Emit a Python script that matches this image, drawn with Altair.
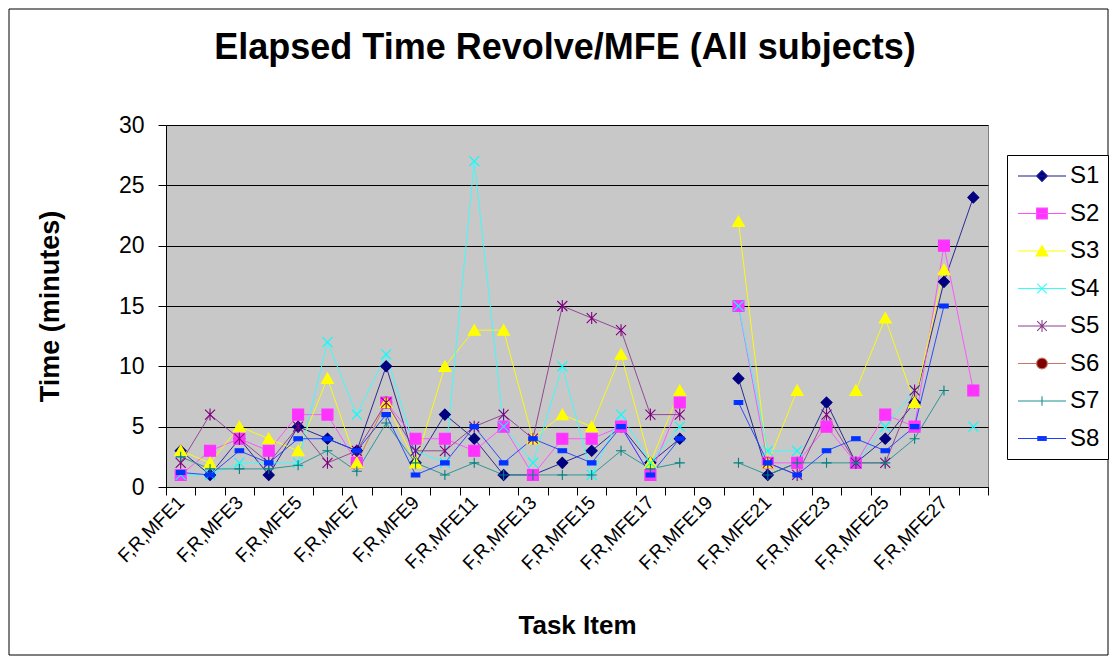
import json
import altair as alt
import pandas as pd

chart_title = "Elapsed Time Revolve/MFE (All subjects)"
tasks = ["F,R,MFE1", "F,R,MFE2", "F,R,MFE3", "F,R,MFE4", "F,R,MFE5", "F,R,MFE6", "F,R,MFE7",
         "F,R,MFE8", "F,R,MFE9", "F,R,MFE10", "F,R,MFE11", "F,R,MFE12", "F,R,MFE13", "F,R,MFE14",
         "F,R,MFE15", "F,R,MFE16", "F,R,MFE17", "F,R,MFE18", "F,R,MFE19", "F,R,MFE20", "F,R,MFE21",
         "F,R,MFE22", "F,R,MFE23", "F,R,MFE24", "F,R,MFE25", "F,R,MFE26", "F,R,MFE27", "F,R,MFE28"]
shown_labels = ["F,R,MFE1", "F,R,MFE3", "F,R,MFE5", "F,R,MFE7", "F,R,MFE9", "F,R,MFE11", "F,R,MFE13",
                "F,R,MFE15", "F,R,MFE17", "F,R,MFE19", "F,R,MFE21", "F,R,MFE23", "F,R,MFE25", "F,R,MFE27"]
series = ["S1", "S2", "S3", "S4", "S5", "S6", "S7", "S8"]
draw_order = [2, 3, 4, 5, 6, 1, 7, 8]  # S6 markers sit beneath the others

N = None
s1 = [3, 1, 4, 1, 5, 4, 3, 10, 2, 6, 4, 1, 1, 2, 3, 5, 2, 4, N, 9, 1, 2, 7, 2, 4, 7, 17, 24]
s2 = [1, 3, 4, 3, 6, 6, 2, 7, 4, 4, 3, 5, 1, 4, 4, 5, 1, 7, N, 15, 2, 2, 5, 2, 6, 5, 20, 8]
s3 = [3, 2, 5, 4, 3, 9, 2, 7, 2, 10, 13, 13, 4, 6, 5, 11, 2, 8, N, 22, 2, 8, N, 8, 14, 7, 18, N]
s4 = [1, 1, 2, 2, 2, 12, 6, 11, 3, 2, 27, 5, 2, 10, 1, 6, 2, 5, N, 15, 3, 3, N, 2, 5, 8, N, 5]
s5 = [2, 6, 4, 2, 5, 2, 3, 7, 3, 3, 5, 6, 4, 15, 14, 13, 6, 6, N, N, 2, 1, 6, 2, 2, 8, N, N]
s6 = [N, N, N, N, N, N, 2, 7, N, N, N, N, N, N, N, N, N, N, N, N, N, N, N, N, N, N, N, N]
s7 = [2.5, 1.5, 1.5, 1.5, 1.8, 3, 1.3, 5.3, 2, 1, 2, 1, 1, 1, 1, 3, 1.5, 2, N, 2, 1, 2, 2, 2, 2, 4, 8, N]
s8 = [1.2, 1, 3, 2, 4, 4, 3, 6, 1, 2, 5, 2, 4, 3, 2, 5, 1, 4, N, 7, 2, 1, 3, 4, 3, 5, 15, N]
all_values = [s1, s2, s3, s4, s5, s6, s7, s8]

line_colors = ["#1a1a8c", "#ff4dff", "#ffff00", "#33ffff", "#8c3d8c", "#c07868", "#1f8f8f", "#1a3dff"]
marker_colors = ["#000080", "#ff33ff", "#ffff00", "#00ffff", "#800080", "#800000", "#008080", "#0033ff"]

# marker paths (unit = sqrt(size)/2 px)
chart_paths = [
    "M0,-1.1L1.1,0L0,1.1L-1.1,0Z",
    "M-1.1,-1.1H1.1V1.1H-1.1Z",
    "M0,-1.1L1.2,1L-1.2,1Z",
    "M-1,-1L1,1M-1,1L1,-1",
    "M-1,-1L1,1M-1,1L1,-1M0,-1.2V1.2",
    "M1.1,0A1.1,1.1 0 1,1 -1.1,0A1.1,1.1 0 1,1 1.1,0Z",
    "M-1,0H1M0,-1V1",
    "M-0.85,-0.4H0.85V0.4H-0.85Z",
]
legend_paths = [
    "M-2,0H2M0,-0.45L0.45,0L0,0.45L-0.45,0Z",
    "M-2,0H2M-0.45,-0.45H0.45V0.45H-0.45Z",
    "M-2,0H2M0,-0.45L0.5,0.42L-0.5,0.42Z",
    "M-2,0H2M-0.4,-0.4L0.4,0.4M-0.4,0.4L0.4,-0.4",
    "M-2,0H2M-0.4,-0.4L0.4,0.4M-0.4,0.4L0.4,-0.4M0,-0.5V0.5",
    "M-2,0H-0.45M0.45,0H2M0.45,0A0.45,0.45 0 1,1 -0.45,0A0.45,0.45 0 1,1 0.45,0Z",
    "M-2,0H2M0,-0.4V0.4",
    "M-2,0H2M-0.35,-0.17H0.35V0.17H-0.35Z",
]

rows = []
for name, z, vals in zip(series, draw_order, all_values):
    for t, v in zip(tasks, vals):
        rows.append({"task": t, "series": name, "z": z, "value": v})
df = pd.DataFrame(rows)
df_pts = df.dropna(subset=["value"]).sort_values("z", kind="stable")

FONT = "Liberation Sans"

label_expr = "indexof(" + json.dumps(shown_labels) + ", datum.value) >= 0 ? datum.label : ''"

x_enc = alt.X(
    "task:N",
    sort=tasks,
    bandPosition=0.5,
    scale=alt.Scale(type="band", paddingInner=0, paddingOuter=0),
    axis=alt.Axis(
        title="Task Item",
        titleFont=FONT, titleFontSize=26, titleFontWeight="bold", titleColor="black",
        titleX=411, titleY=138, titleAnchor="middle", titleBaseline="middle",
        labelExpr=label_expr, labelAngle=315, labelAlign="right", labelBaseline="middle",
        labelFont=FONT, labelFontSize=19, labelColor="black", labelPadding=4,
        labelOverlap=False, labelBound=False, labelFlush=False,
        tickBand="extent", tickSize=8, tickColor="black", domainColor="black",
        grid=False,
    ),
)
y_enc = alt.Y(
    "value:Q",
    scale=alt.Scale(domain=[0, 30], nice=False, zero=True),
    axis=alt.Axis(
        values=[0, 5, 10, 15, 20, 25, 30],
        title="Time (minutes)",
        titleFont=FONT, titleFontSize=27, titleFontWeight="bold", titleColor="black",
        titleX=-116, titleY=181, titleAlign="center", titleBaseline="middle", titleAngle=270,
        labelFont=FONT, labelFontSize=23, labelColor="black", labelPadding=14,
        tickSize=8, tickColor="black", domainColor="black",
        grid=True, gridColor="black", gridWidth=1,
    ),
)

lines = alt.Chart(df).mark_line(
    strokeWidth=1, opacity=0.9, invalid="break-paths-show-domains"
).encode(
    x=x_enc, y=y_enc,
    color=alt.Color("series:N", scale=alt.Scale(domain=series, range=line_colors), legend=None),
)

points = alt.Chart(df_pts).mark_point(filled=True, size=100, strokeWidth=1.1, opacity=1).encode(
    x=x_enc, y=y_enc,
    shape=alt.Shape("series:N", scale=alt.Scale(domain=series, range=chart_paths), legend=None),
    fill=alt.Fill("series:N", scale=alt.Scale(domain=series, range=marker_colors), legend=None),
    stroke=alt.Stroke("series:N", scale=alt.Scale(domain=series, range=marker_colors), legend=None),
)

leg = dict(
    title=None, orient="none", legendX=841, legendY=30,
    symbolSize=576, symbolStrokeWidth=1.1, symbolOpacity=1, symbolOffset=14,
    labelFont=FONT, labelFontSize=24, labelColor="black", labelOffset=15,
    rowPadding=12.5, padding=8, strokeColor="black", fillColor="white",
)
legend_layer = alt.Chart(df_pts).mark_point(filled=True, size=100, opacity=0, strokeWidth=1.1).encode(
    x=x_enc, y=y_enc,
    shape=alt.Shape("series:N", scale=alt.Scale(domain=series, range=legend_paths), legend=alt.Legend(**leg)),
    fill=alt.Fill("series:N", scale=alt.Scale(domain=series, range=marker_colors), legend=alt.Legend(**leg)),
    stroke=alt.Stroke("series:N", scale=alt.Scale(domain=series, range=line_colors), legend=alt.Legend(**leg)),
)

deco = pd.DataFrame({"t": [chart_title]})
frame = alt.Chart(deco).mark_rect(
    fillOpacity=0, stroke="black", strokeWidth=1, clip=False
).encode(
    x=alt.value(-157), x2=alt.value(942), y=alt.value(-116), y2=alt.value(530)
)
title_text = alt.Chart(deco).mark_text(
    font=FONT, fontSize=36, fontWeight="bold", color="black",
    align="center", baseline="middle", clip=False
).encode(
    x=alt.value(399), y=alt.value(-77), text="t:N"
)

chart = alt.layer(frame, title_text, lines, points, legend_layer).resolve_scale(
    shape="independent", fill="independent", stroke="independent"
).properties(
    width=822,
    height=362,
    autosize=alt.AutoSizeParams(type="none"),
    padding={"left": 158, "top": 117, "right": 121, "bottom": 169},
    background="white",
).configure_view(
    fill="#c8c8c8", stroke="#808080", strokeWidth=1
)

chart.save("out.html", embed_options={"renderer": "svg", "actions": False})
